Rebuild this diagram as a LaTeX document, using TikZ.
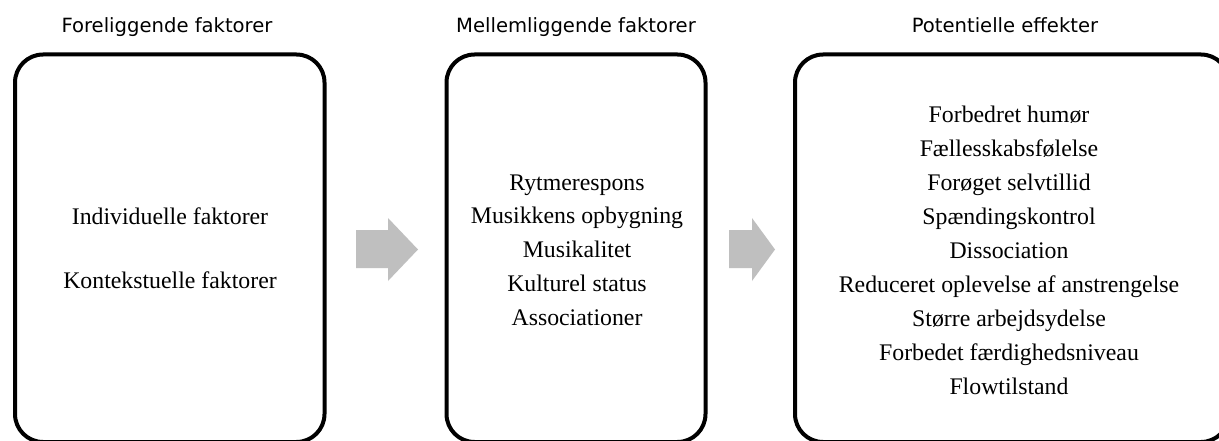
\documentclass[tikz,border=0pt]{standalone}
\usepackage{fontspec}
\setmainfont{Liberation Serif}
\newfontfamily\headfont{DejaVu Sans}
\begin{document}
\begin{tikzpicture}[x=1pt,y=-1pt,
  box/.style={draw=black,line width=4pt,rounded corners=28pt,minimum width=#1,inner sep=0pt,minimum height=387.5pt},
  head/.style={anchor=base,inner sep=0pt,font=\headfont\fontsize{19.6}{23}\selectfont},
  body/.style={anchor=base,inner sep=0pt,font=\fontsize{23.8}{28}\selectfont},
  blockarrow/.style={fill=black!25,draw=none}]
\useasboundingbox (0,0) rectangle (1219,441);
\fill[white] (0,0) rectangle (1219,441);
% boxes
\node[box=309.5pt] (box1) at (169.75,248.25) {};
\node[box=259pt] (box2) at (576,248.25) {};
\node[box=434pt] (box3) at (1012,248.25) {};
% headings
\node[head] (h1) at (167,33) {Foreliggende faktorer};
\node[head] (h2) at (576,33) {Mellemliggende faktorer};
\node[head] (h3) at (1005,33) {Potentielle effekter};
% box 1 text
\node[body] (a1) at (170,224) {Individuelle faktorer};
\node[body] (a2) at (170,288) {Kontekstuelle faktorer};
% box 2 text
\foreach \t [count=\i] in {Rytmerespons,Musikkens opbygning,Musikalitet,Kulturel status,Associationer}
  \node[body] (b\i) at (577,{190+33.8*(\i-1)}) {\t};
% box 3 text
\foreach \t [count=\i] in {Forbedret humør,Fællesskabsfølelse,Forøget selvtillid,Spændingskontrol,Dissociation,Reduceret oplevelse af anstrengelse,Større arbejdsydelse,Forbedet færdighedsniveau,Flowtilstand}
  \node[body] (c\i) at (1009,{123+33.9*(\i-1)}) {\t};
% block arrows
\fill[blockarrow] (356,230) -- (388,230) -- (388,218) -- (418,249.5) -- (388,281) -- (388,268) -- (356,268) -- cycle;
\fill[blockarrow] (729,230) -- (752,230) -- (752,218) -- (775,249.5) -- (752,281) -- (752,268) -- (729,268) -- cycle;
\end{tikzpicture}
\end{document}
